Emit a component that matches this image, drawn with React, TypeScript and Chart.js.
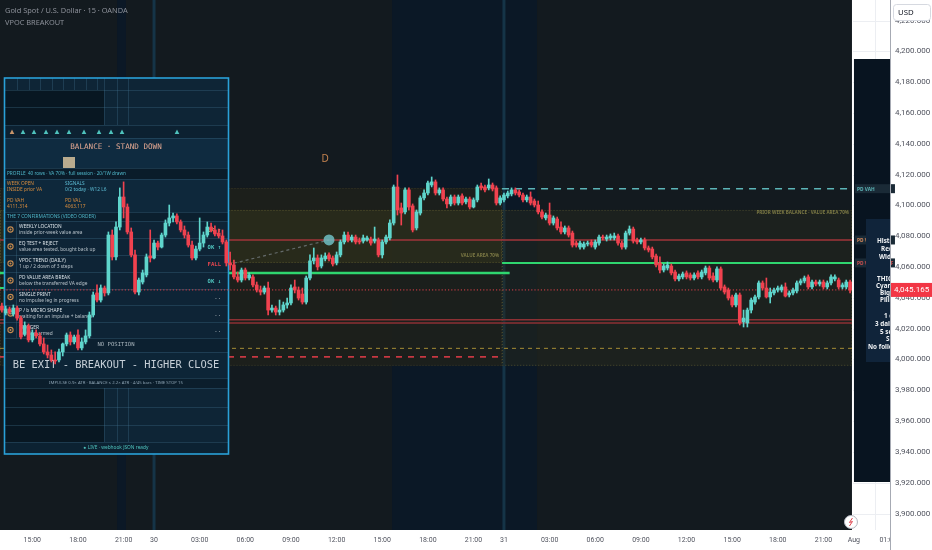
import React, { useEffect, useRef } from 'react';
import { Chart, registerables } from 'chart.js';

Chart.register(...registerables);

// ---------- categories (15-minute bars, OANDA session with daily break) ----------
const sessions: { day: string; fromH: number; toH: number }[] = [
  { day: 'Jul 29', fromH: 13, toH: 22 },
  { day: 'Jul 29', fromH: 23, toH: 24 },
  { day: 'Jul 30', fromH: 0, toH: 22 },
  { day: 'Jul 30', fromH: 23, toH: 24 },
  { day: 'Jul 31', fromH: 0, toH: 22 },
  { day: 'Jul 31', fromH: 23, toH: 24 },
  { day: 'Aug 1', fromH: 0, toH: 2.5 },
];
const categories: string[] = [];
sessions.forEach((s) => {
  for (let m = s.fromH * 60; m < s.toH * 60; m += 15) {
    const hh = String(Math.floor(m / 60)).padStart(2, '0');
    const mm = String(m % 60).padStart(2, '0');
    categories.push(`${s.day} ${hh}:${mm}`);
  }
});

const xTickLabels: [number, string][] = [
  [8, '15:00'], [20, '18:00'], [32, '21:00'], [40, '30'], [52, '03:00'], [64, '06:00'],
  [76, '09:00'], [88, '12:00'], [100, '15:00'], [112, '18:00'], [124, '21:00'], [132, '31'],
  [144, '03:00'], [156, '06:00'], [168, '09:00'], [180, '12:00'], [192, '15:00'], [204, '18:00'],
  [216, '21:00'], [224, 'Aug'], [233, '01:00'],
];
const priceTicks = [3900, 3920, 3940, 3960, 3980, 4000, 4020, 4040, 4060, 4080, 4100, 4120, 4140, 4160, 4180, 4200, 4220];

// ---------- OHLC ----------
const opens = [
  4034.7, 4030.2, 4032.8, 4029.5, 4033.4, 4026.9, 4016.6, 4021.8, 4012.7, 4017.2,
  4015.3, 4010.1, 4004.9, 4002.9, 3999.7, 3999.7, 4004.9, 4010.1, 4015.9, 4011.4,
  4015.9, 4007.5, 4011.4, 4015.3, 4028.9, 4043.2, 4038.6, 4046.4, 4043.2, 4080.8,
  4066.6, 4086.0, 4105.5, 4099.0, 4082.8, 4067.9, 4043.8, 4050.3, 4054.9, 4067.2,
  4065.9, 4075.6, 4073.0, 4080.8, 4088.6, 4091.9, 4093.2, 4089.3, 4084.1, 4080.8,
  4074.3, 4065.9, 4071.7, 4075.6, 4080.8, 4086.0, 4084.1, 4082.1, 4080.2, 4076.3,
  4062.7, 4061.4, 4053.6, 4051.6, 4058.1, 4052.9, 4053.6, 4048.4, 4045.1, 4043.8,
  4046.4, 4032.1, 4033.4, 4030.8, 4032.1, 4035.4, 4036.7, 4047.1, 4045.1, 4042.5,
  4037.3, 4052.9, 4064.0, 4065.9, 4060.7, 4065.3, 4067.9, 4065.9, 4062.7, 4067.9,
  4076.3, 4080.8, 4077.6, 4079.5, 4076.9, 4076.9, 4077.6, 4078.2, 4076.9, 4077.6,
  4067.9, 4076.3, 4078.9, 4088.6, 4112.0, 4098.4, 4095.8, 4110.1, 4099.7, 4085.4,
  4095.1, 4104.9, 4108.1, 4113.3, 4115.3, 4108.1, 4110.1, 4104.2, 4101.0, 4105.5,
  4101.6, 4106.2, 4102.3, 4104.2, 4099.0, 4103.6, 4112.7, 4112.0, 4111.4, 4113.3,
  4111.4, 4101.6, 4103.6, 4106.2, 4107.5, 4110.1, 4108.8, 4106.8, 4103.6, 4105.5,
  4102.9, 4100.3, 4095.8, 4091.9, 4093.8, 4088.6, 4091.2, 4086.0, 4082.8, 4085.4,
  4082.1, 4075.6, 4073.0, 4073.0, 4075.0, 4076.3, 4073.0, 4075.6, 4079.5, 4078.2,
  4078.9, 4078.9, 4080.2, 4075.6, 4073.0, 4082.1, 4084.7, 4077.6, 4076.3, 4077.6,
  4072.4, 4071.7, 4067.2, 4062.7, 4058.1, 4059.4, 4060.7, 4056.8, 4052.3, 4053.6,
  4056.2, 4054.9, 4052.9, 4056.2, 4053.6, 4056.2, 4059.4, 4054.2, 4051.6, 4058.8,
  4047.1, 4045.1, 4040.6, 4035.4, 4041.9, 4024.4, 4023.7, 4032.1, 4037.3, 4040.6,
  4049.7, 4046.4, 4040.6, 4043.2, 4045.1, 4045.1, 4047.1, 4041.9, 4043.2, 4044.5,
  4049.7, 4051.0, 4053.6, 4047.1, 4050.3, 4049.0, 4050.3, 4047.1, 4049.7, 4052.3,
  4051.6, 4047.1, 4047.1, 4050.3,
];
const highs = [
  4036.7, 4034.7, 4034.1, 4035.4, 4034.7, 4028.2, 4024.4, 4023.1, 4019.2, 4019.2,
  4017.2, 4014.0, 4009.4, 4006.2, 4004.9, 4006.8, 4010.7, 4017.2, 4017.9, 4015.9,
  4019.2, 4014.0, 4019.2, 4030.8, 4043.8, 4048.4, 4048.4, 4047.7, 4082.8, 4084.1,
  4089.3, 4111.4, 4115.3, 4101.0, 4085.4, 4071.1, 4052.9, 4058.1, 4068.5, 4084.1,
  4077.6, 4076.9, 4082.1, 4090.6, 4100.3, 4095.1, 4094.5, 4090.6, 4086.7, 4082.8,
  4076.9, 4073.7, 4091.9, 4082.8, 4089.3, 4088.6, 4086.7, 4084.7, 4084.1, 4077.6,
  4069.8, 4064.6, 4056.8, 4059.4, 4059.4, 4056.2, 4054.9, 4050.3, 4047.7, 4047.7,
  4050.3, 4035.4, 4034.7, 4038.6, 4037.3, 4039.9, 4048.4, 4051.6, 4047.1, 4046.4,
  4054.2, 4067.9, 4072.4, 4067.9, 4067.9, 4069.2, 4069.2, 4067.2, 4069.8, 4077.6,
  4082.8, 4082.8, 4080.8, 4080.8, 4078.9, 4080.8, 4080.2, 4079.5, 4086.0, 4078.9,
  4077.6, 4080.8, 4090.6, 4113.3, 4119.8, 4101.6, 4111.4, 4111.4, 4101.0, 4097.1,
  4106.2, 4110.1, 4115.9, 4118.5, 4116.6, 4111.4, 4111.4, 4105.5, 4106.8, 4106.8,
  4106.8, 4107.5, 4105.5, 4105.5, 4104.9, 4113.3, 4114.6, 4113.3, 4117.2, 4114.6,
  4112.7, 4106.2, 4108.1, 4109.4, 4111.4, 4111.4, 4110.1, 4108.1, 4106.8, 4108.8,
  4104.2, 4102.9, 4097.1, 4095.1, 4101.6, 4093.2, 4092.5, 4089.3, 4086.7, 4086.7,
  4083.4, 4076.9, 4076.9, 4076.3, 4076.9, 4077.6, 4077.6, 4080.8, 4080.8, 4080.8,
  4081.5, 4082.1, 4081.5, 4076.9, 4083.4, 4086.7, 4086.0, 4078.9, 4078.9, 4078.9,
  4073.7, 4073.0, 4068.5, 4066.6, 4062.0, 4063.3, 4062.0, 4058.1, 4055.5, 4056.8,
  4057.5, 4056.2, 4056.2, 4057.5, 4058.1, 4060.7, 4060.7, 4056.2, 4060.1, 4060.1,
  4048.4, 4046.4, 4041.9, 4043.2, 4043.2, 4032.1, 4033.4, 4039.9, 4041.9, 4051.0,
  4051.0, 4052.9, 4046.4, 4046.4, 4047.7, 4048.4, 4049.7, 4044.5, 4046.4, 4051.0,
  4052.3, 4054.2, 4054.9, 4051.6, 4051.6, 4051.6, 4051.6, 4051.0, 4054.9, 4054.9,
  4052.9, 4049.7, 4051.6, 4051.6,
];
const lows = [
  4030.8, 4028.9, 4029.5, 4028.2, 4025.6, 4013.3, 4015.3, 4011.4, 4011.4, 4014.0,
  4008.8, 4003.6, 4001.0, 3998.4, 3997.1, 3998.4, 4002.3, 4008.8, 4009.4, 4010.1,
  4006.2, 4006.2, 4010.1, 4014.0, 4027.6, 4037.3, 4037.3, 4041.2, 4041.9, 4064.6,
  4064.6, 4084.1, 4091.9, 4081.5, 4066.6, 4042.5, 4041.9, 4049.0, 4053.6, 4063.3,
  4065.3, 4071.1, 4072.4, 4079.5, 4086.7, 4089.3, 4088.0, 4082.8, 4078.9, 4073.0,
  4064.6, 4064.6, 4070.5, 4073.0, 4079.5, 4082.8, 4080.2, 4078.9, 4075.0, 4060.7,
  4058.1, 4052.3, 4050.3, 4050.3, 4051.6, 4051.6, 4047.1, 4043.8, 4041.9, 4042.5,
  4028.9, 4030.8, 4028.9, 4028.9, 4030.8, 4033.4, 4035.4, 4043.2, 4038.6, 4036.0,
  4036.0, 4051.6, 4062.0, 4058.1, 4059.4, 4064.0, 4064.0, 4060.7, 4061.4, 4066.6,
  4075.0, 4076.3, 4076.3, 4075.0, 4075.0, 4075.6, 4076.9, 4074.3, 4075.6, 4066.6,
  4065.9, 4075.0, 4077.6, 4087.3, 4093.8, 4087.3, 4094.5, 4097.1, 4082.8, 4084.1,
  4093.8, 4103.6, 4106.8, 4112.0, 4106.8, 4106.8, 4102.9, 4098.4, 4099.7, 4100.3,
  4100.3, 4100.3, 4101.0, 4097.7, 4098.4, 4102.3, 4110.1, 4108.8, 4110.1, 4109.4,
  4100.3, 4100.3, 4102.3, 4104.9, 4106.2, 4106.8, 4105.5, 4102.3, 4102.3, 4100.3,
  4099.0, 4094.5, 4091.2, 4090.6, 4087.3, 4087.3, 4084.1, 4081.5, 4081.5, 4079.5,
  4073.0, 4073.0, 4071.7, 4071.7, 4073.7, 4073.0, 4071.7, 4074.3, 4077.6, 4076.9,
  4077.6, 4077.6, 4074.3, 4071.7, 4071.7, 4080.8, 4075.6, 4075.0, 4075.0, 4071.1,
  4069.8, 4065.3, 4060.1, 4056.2, 4056.8, 4058.1, 4054.9, 4051.0, 4051.0, 4052.3,
  4052.3, 4051.6, 4051.6, 4052.3, 4052.3, 4054.9, 4051.6, 4050.3, 4050.3, 4045.1,
  4042.5, 4038.6, 4034.1, 4034.1, 4022.4, 4021.1, 4021.1, 4030.2, 4036.0, 4039.3,
  4045.1, 4039.9, 4036.7, 4041.9, 4043.8, 4043.8, 4040.6, 4040.6, 4041.9, 4043.2,
  4048.4, 4049.7, 4045.8, 4045.8, 4047.7, 4047.7, 4045.8, 4045.8, 4048.4, 4051.0,
  4045.8, 4045.8, 4045.8, 4043.2,
];
const closes = [
  4032.1, 4032.8, 4030.8, 4033.4, 4026.9, 4014.6, 4021.8, 4012.7, 4017.2, 4015.3,
  4010.1, 4004.9, 4002.9, 3999.7, 3999.0, 4004.9, 4010.1, 4015.9, 4011.4, 4014.6,
  4007.5, 4011.4, 4015.3, 4028.9, 4041.9, 4038.6, 4046.4, 4043.2, 4080.8, 4066.6,
  4086.0, 4105.5, 4099.0, 4082.8, 4067.9, 4043.8, 4051.6, 4056.2, 4066.6, 4065.9,
  4075.6, 4073.0, 4080.8, 4088.6, 4091.9, 4093.2, 4089.3, 4084.1, 4080.8, 4074.3,
  4065.9, 4071.7, 4075.6, 4080.8, 4086.0, 4084.1, 4081.5, 4080.2, 4076.3, 4062.7,
  4061.4, 4053.6, 4051.6, 4058.1, 4052.9, 4054.9, 4048.4, 4045.1, 4043.8, 4046.4,
  4032.1, 4033.4, 4030.8, 4032.1, 4035.4, 4036.7, 4046.4, 4045.1, 4039.9, 4037.3,
  4052.9, 4064.0, 4065.9, 4060.1, 4065.9, 4067.2, 4065.3, 4062.0, 4067.9, 4076.3,
  4080.8, 4077.6, 4079.5, 4076.3, 4076.3, 4078.9, 4078.9, 4075.6, 4078.2, 4067.9,
  4076.3, 4079.5, 4088.6, 4112.0, 4097.1, 4095.1, 4110.1, 4099.0, 4084.1, 4095.8,
  4104.9, 4108.1, 4114.6, 4115.3, 4108.1, 4110.1, 4104.2, 4101.0, 4105.5, 4101.6,
  4105.5, 4101.6, 4104.2, 4099.0, 4103.6, 4112.0, 4111.4, 4110.1, 4113.3, 4110.7,
  4101.6, 4104.9, 4106.8, 4108.1, 4110.1, 4108.1, 4106.8, 4103.6, 4105.5, 4101.6,
  4100.3, 4095.8, 4092.5, 4093.8, 4088.6, 4091.9, 4085.4, 4082.8, 4085.4, 4080.8,
  4074.3, 4074.3, 4075.6, 4075.0, 4075.6, 4074.3, 4076.3, 4079.5, 4078.9, 4079.5,
  4080.2, 4080.2, 4075.6, 4073.0, 4082.1, 4084.7, 4076.9, 4076.3, 4077.6, 4072.4,
  4071.1, 4066.6, 4061.4, 4058.1, 4060.7, 4061.4, 4056.2, 4052.3, 4054.2, 4055.5,
  4053.6, 4052.9, 4054.9, 4053.6, 4056.8, 4059.4, 4052.9, 4051.6, 4058.8, 4046.4,
  4043.8, 4039.9, 4035.4, 4041.9, 4023.7, 4026.9, 4032.1, 4038.6, 4040.6, 4049.7,
  4046.4, 4040.6, 4043.8, 4045.1, 4046.4, 4047.1, 4041.2, 4043.2, 4045.1, 4049.7,
  4051.0, 4052.9, 4047.1, 4050.3, 4049.0, 4050.3, 4047.1, 4049.7, 4053.6, 4053.6,
  4047.1, 4048.4, 4050.3, 4045.165,
];

// ---------- indicator levels / zones (price + bar index) ----------
const levelLines = [
  { price: 4077.6, from: 0, to: 223, color: '#a0343a', width: 1.5, dash: [] as number[] },
  { price: 4025.8, from: 0, to: 223, color: '#8d3034', width: 1.4, dash: [] as number[] },
  { price: 4023.7, from: 0, to: 223, color: '#8d3034', width: 1.4, dash: [] as number[] },
  { price: 4007.2, from: 0, to: 223, color: '#8e7a30', width: 1.2, dash: [4, 4] },
  { price: 4001.7, from: 0, to: 131, color: '#d63a45', width: 1.6, dash: [6, 6] },
  { price: 4110.9, from: 132, to: 223, color: '#5cb5b8', width: 1.6, dash: [7, 6] },
  { price: 4056.2, from: 0, to: 133, color: '#2fd66f', width: 2.4, dash: [] as number[] },
  { price: 4062.7, from: 132, to: 223, color: '#2fd66f', width: 2, dash: [] as number[] },
  { price: 4046.4, from: 0, to: 2, color: '#2fd66f', width: 2, dash: [] as number[] },
];
const zones = [
  { from: 0, to: 131, top: 4111.4, bottom: 3995.9, fill: 'rgba(30,33,27,0.85)', stroke: '#3a3b29' },
  { from: 0, to: 131, top: 4097.1, bottom: 4062.7, fill: 'rgba(52,54,28,0.5)', stroke: '#57552f' },
  { from: 132, to: 223, top: 4097.1, bottom: 3995.9, fill: 'rgba(40,42,28,0.45)', stroke: '#4a4a2e' },
];
const zoneLabels = [
  { text: 'VALUE AREA 70%', index: 131, price: 4067.3 },
  { text: 'PRIOR WEEK BALANCE · VALUE AREA 70%', index: 223, price: 4095.6 },
];
const sessionBands = [
  { from: 30.3, to: 32.6 },
  { from: 102.6, to: 140.7 },
];
const daySeparators = [40, 132];
const markerD = { index: 85, price: 4130.2, text: 'D' };
const touchFrom = { index: 61, price: 4062.5 };
const touchPoint = { index: 86, price: 4077.6 };
const axisTags = [
  { text: 'PD VAH', price: 4110.9, color: '#5cb5b8' },
  { text: 'PD VPOC', price: 4077.6, color: '#d98a5c' },
  { text: 'PD VAL TRANSF', price: 4062.7, color: '#d05050' },
];
const sideNotes: [string, number, number][] = [
  ['History', 877, 241], ['Red = sell', 881, 249], ['Width = vol', 879, 257],
  ['THICK', 877, 279], ['Cyan = buy', 876, 286], ['Big = VPOC', 880, 293], ['Pill = price', 880, 300],
  ['1 candle', 884, 316], ['3 daily steps', 875, 324], ['5 sessions', 880, 332], ['Slope', 886, 339],
  ['No follow-through', 868, 347],
];

const BULL = '#5fd5cc';
const BEAR = '#f0424f';

const fmtPrice = (v: number) => {
  const [a, b] = v.toFixed(3).split('.');
  return a.replace(/\B(?=(\d{3})+(?!\d))/g, ',') + '.' + b;
};

function txt(ctx: any, s: string, x: number, y: number, color: string, font: string, align: any = 'left') {
  ctx.fillStyle = color;
  ctx.font = font;
  ctx.textAlign = align;
  ctx.textBaseline = 'middle';
  ctx.fillText(s, x, y);
}
function hl(ctx: any, x0: number, x1: number, y: number, c: string, w = 1) {
  ctx.strokeStyle = c; ctx.lineWidth = w; ctx.beginPath(); ctx.moveTo(x0, y); ctx.lineTo(x1, y); ctx.stroke();
}
function vl(ctx: any, x: number, y0: number, y1: number, c: string, w = 1) {
  ctx.strokeStyle = c; ctx.lineWidth = w; ctx.beginPath(); ctx.moveTo(x, y0); ctx.lineTo(x, y1); ctx.stroke();
}

const SANS = '"Noto Sans", Roboto, sans-serif';
const MONO = '"DejaVu Sans Mono", monospace';

function drawPanel(ctx: any) {
  const L = 5, R = 228, W = R - L;
  const fills: [number, number, number, number, string][] = [
    [L, 78, W, 376, '#0e2536'],
    [L, 90, 99, 35, '#081722'],
    [L, 125, W, 13, '#0c2131'],
    [L, 138, W, 30, '#0f2b40'],
    [L, 168, W, 11, '#0a1c2a'],
    [L, 179, W, 33, '#0e283b'],
    [L, 212, W, 9, '#0b1f2e'],
    [L, 221, W, 117, '#0e2436'],
    [L, 338, W, 14, '#0c2030'],
    [L, 352, W, 26, '#0d2537'],
    [L, 378, W, 10, '#0b1e2c'],
    [L, 388, 99, 54, '#081722'],
    [L, 442, W, 11, '#0c2232'],
  ];
  fills.forEach(([x, y, w, h, c]) => { ctx.fillStyle = c; ctx.fillRect(x, y, w, h); });
  const g = 'rgba(70,120,150,0.3)';
  [90, 107, 125, 138, 168, 179, 212, 221, 238, 255, 272, 289, 305, 322, 338, 352, 378, 388, 407, 425, 442].forEach((y) => hl(ctx, L, R, y + 0.5, g));
  [17, 29, 40, 52, 63, 74, 86, 97].forEach((x) => vl(ctx, x + 0.5, 78, 90, g));
  [104, 117, 128].forEach((x) => { vl(ctx, x + 0.5, 78, 125, g); vl(ctx, x + 0.5, 388, 442, g); });
  vl(ctx, 16.5, 221, 338, g);

  // arrows row
  [12, 23, 34, 46, 57, 69, 84, 99, 111, 122, 177].forEach((x, i) => {
    ctx.fillStyle = i === 0 ? '#c8956a' : '#4fc3bd';
    ctx.beginPath(); ctx.moveTo(x, 129.5); ctx.lineTo(x + 2.3, 134); ctx.lineTo(x - 2.3, 134); ctx.closePath(); ctx.fill();
  });

  txt(ctx, 'BALANCE · STAND DOWN', 116, 147.5, '#e3a892', `7.6px ${MONO}`, 'center');
  ctx.fillStyle = '#b9ab8e'; ctx.fillRect(63, 157, 12, 11);
  txt(ctx, 'PROFILE  40 rows · VA 70% · full session · 20/1W drawn', 7, 173.5, '#4fb6c9', `4.7px ${SANS}`);

  const orange = '#d98d3e', teal = '#5cbad2';
  const info: [string, number, number, string][] = [
    ['WEEK OPEN', 7, 184, orange], ['INSIDE prior VA', 7, 190, orange],
    ['SIGNALS', 65, 184, teal], ['0/2 today · W12 L6', 65, 190, teal],
    ['PD VAH', 7, 201, orange], ['4111.314', 7, 206.5, orange],
    ['PD VAL', 65, 201, orange], ['4063.117', 65, 206.5, orange],
  ];
  info.forEach(([s, x, y, c]) => txt(ctx, s, x, y, c, `4.8px ${SANS}`));
  txt(ctx, 'THE 7 CONFIRMATIONS (VIDEO ORDER)', 7, 216.8, '#4fb6c9', `4.8px ${SANS}`);

  const conf: [string, string, string, string][] = [
    ['WEEKLY LOCATION', 'inside prior-week value area', 'OK ↑', '#c8b46a'],
    ['EQ TEST + REJECT', 'value area tested, bought back up', 'OK ↑', '#4fc3bd'],
    ['VPOC TREND (DAILY)', '1 up / 2 down of 3 steps', 'FALL', '#e0454f'],
    ['PD VALUE AREA BREAK', 'below the transferred VA edge', 'OK ↓', '#4fc3bd'],
    ['SINGLE PRINT', 'no impulse leg in progress', '..', '#7d8a94'],
    ['P / b MICRO SHAPE', 'waiting for an impulse + balance', '..', '#7d8a94'],
    ['TRIGGER', 'nothing armed', '..', '#7d8a94'],
  ];
  const rowTops = [221, 238, 255, 272, 289, 305, 322, 338];
  conf.forEach(([t, s, st, c], i) => {
    const y0 = rowTops[i], y1 = rowTops[i + 1], cy = (y0 + y1) / 2;
    ctx.strokeStyle = '#c58a4e'; ctx.lineWidth = 1.1;
    ctx.beginPath(); ctx.arc(10.5, cy, 2.6, 0, Math.PI * 2); ctx.stroke();
    ctx.fillStyle = '#c58a4e'; ctx.beginPath(); ctx.arc(10.5, cy, 1, 0, Math.PI * 2); ctx.fill();
    txt(ctx, t, 19, y0 + 5.5, '#dbe3e8', `4.8px ${SANS}`);
    txt(ctx, s, 19, y0 + 11.5, '#b5c0c8', `4.8px ${SANS}`);
    txt(ctx, st, 221, cy + 1, c, `bold 5.6px ${MONO}`, 'right');
  });

  txt(ctx, 'NO POSITION', 116, 345, '#a9b5bd', `5.6px ${MONO}`, 'center');
  txt(ctx, 'BE EXIT - BREAKOUT - HIGHER CLOSE', 116, 365.5, '#c7d0d8', `10.4px ${MONO}`, 'center');
  txt(ctx, 'IMPULSE 0.9× ATR · BALANCE ≤ 2.2× ATR · 4/45 bars · TIME STOP 15', 116, 382.8, '#8aa0b0', `4.3px ${SANS}`, 'center');
  txt(ctx, '● LIVE · webhook JSON ready', 116, 447.8, '#4fc3bd', `4.8px ${SANS}`, 'center');

  ctx.strokeStyle = '#2aa0d8'; ctx.lineWidth = 1.6;
  ctx.strokeRect(4.5, 78, 224, 376);
}

const overlayPlugin = {
  id: 'vpocOverlay',
  beforeDraw(chart: any) {
    const { ctx, chartArea: ca } = chart;
    const X = chart.scales.x, Y = chart.scales.y;
    const xi = (i: number) => X.getPixelForValue(i);
    const yp = (p: number) => Y.getPixelForValue(p);
    const half = (xi(1) - xi(0)) / 2;
    const lastRight = xi(opens.length - 1) + half;
    ctx.save();
    ctx.fillStyle = '#ffffff';
    ctx.fillRect(0, 0, chart.width, chart.height);
    // strip grid (light theme grid visible where indicator bg absent)
    priceTicks.forEach((v) => hl(ctx, lastRight + 1, ca.right, Math.round(yp(v)) + 0.5, '#eceef2'));
    vl(ctx, 875.5, ca.top, ca.bottom, '#eceef2');
    // dark indicator background
    ctx.fillStyle = '#131a1f';
    ctx.fillRect(ca.left, ca.top, lastRight - ca.left, ca.bottom - ca.top);
    // session bands & day separators
    sessionBands.forEach((b) => {
      ctx.fillStyle = '#0b1826';
      ctx.fillRect(xi(b.from), ca.top, xi(b.to) - xi(b.from), ca.bottom - ca.top);
    });
    daySeparators.forEach((i) => vl(ctx, xi(i), ca.top, ca.bottom, '#153447', 3));
    // zones
    zones.forEach((z) => {
      const x0 = xi(z.from) - half, x1 = xi(z.to) + half;
      const y0 = yp(z.top), y1 = yp(z.bottom);
      ctx.fillStyle = z.fill;
      ctx.fillRect(x0, y0, x1 - x0, y1 - y0);
      ctx.setLineDash([1, 2]);
      ctx.strokeStyle = z.stroke; ctx.lineWidth = 1;
      ctx.strokeRect(x0 + 0.5, y0 + 0.5, x1 - x0 - 1, y1 - y0 - 1);
      ctx.setLineDash([]);
    });
    zoneLabels.forEach((l) => txt(ctx, l.text, xi(l.index) + half - 3, yp(l.price), '#7d7a45', `bold 4.6px ${SANS}`, 'right'));
    // level lines
    levelLines.forEach((l) => {
      ctx.setLineDash(l.dash);
      hl(ctx, xi(l.from) - half, xi(l.to) + half, yp(l.price), l.color, l.width);
    });
    ctx.setLineDash([]);
    // touch marker
    ctx.setLineDash([3, 3]);
    ctx.strokeStyle = 'rgba(140,150,160,0.6)'; ctx.lineWidth = 1.2;
    ctx.beginPath(); ctx.moveTo(xi(touchFrom.index), yp(touchFrom.price)); ctx.lineTo(xi(touchPoint.index), yp(touchPoint.price)); ctx.stroke();
    ctx.setLineDash([]);
    ctx.fillStyle = 'rgba(110,190,195,0.85)';
    ctx.beginPath(); ctx.arc(xi(touchPoint.index), yp(touchPoint.price), 5.5, 0, Math.PI * 2); ctx.fill();
    txt(ctx, markerD.text, xi(markerD.index), yp(markerD.price), '#c4834f', `10px ${SANS}`, 'center');

    // right strip
    const sx = lastRight + 2;
    ctx.fillStyle = '#081420';
    ctx.fillRect(sx, 59, ca.right - sx, 423);
    axisTags.forEach((t) => {
      const y = yp(t.price);
      ctx.fillStyle = '#1a2a36';
      ctx.fillRect(sx + 1, y - 4.5, 40, 9);
      txt(ctx, t.text, sx + 3, y + 0.5, t.color, `bold 4.8px ${SANS}`);
    });
    ctx.fillStyle = '#10243a';
    ctx.fillRect(866, 219, ca.right - 866, 143);
    ctx.save();
    ctx.beginPath(); ctx.rect(866, 219, ca.right - 866, 143); ctx.clip();
    sideNotes.forEach(([s, x, y]) => txt(ctx, s, x, y, '#f2f4f6', `bold 6.3px ${SANS}`));
    ctx.restore();
    ctx.restore();
  },
  beforeDatasetsDraw(chart: any) {
    const { ctx } = chart;
    const X = chart.scales.x, Y = chart.scales.y;
    const half = (X.getPixelForValue(1) - X.getPixelForValue(0)) / 2;
    ctx.save();
    drawPanel(ctx);
    const y = Y.getPixelForValue(closes[closes.length - 1]);
    ctx.setLineDash([1.2, 2]);
    hl(ctx, 0, X.getPixelForValue(closes.length - 1) + half, y, '#e0404a', 1);
    ctx.setLineDash([]);
    ctx.restore();
  },
  afterDraw(chart: any) {
    const { ctx, chartArea: ca } = chart;
    const X = chart.scales.x, Y = chart.scales.y;
    const half = (X.getPixelForValue(1) - X.getPixelForValue(0)) / 2;
    ctx.save();
    txt(ctx, 'Gold Spot / U.S. Dollar · 15 · OANDA', 5, 11, '#8c9099', `7.4px ${SANS}`);
    txt(ctx, 'VPOC BREAKOUT', 5, 22.5, '#8c9099', `7.4px ${SANS}`);
    // cover x-axis under price axis
    ctx.fillStyle = '#ffffff';
    ctx.fillRect(ca.right + 0.5, ca.bottom, chart.width - ca.right, chart.height - ca.bottom);
    vl(ctx, ca.right + 0.5, 0, chart.height, '#a6aab3', 1);
    // USD box
    ctx.fillStyle = '#ffffff';
    ctx.strokeStyle = '#d6d9e0'; ctx.lineWidth = 1;
    ctx.beginPath(); ctx.roundRect(893.5, 4.5, 37, 16, 3); ctx.fill(); ctx.stroke();
    txt(ctx, 'USD', 898, 12.8, '#131722', `7.8px ${SANS}`);
    // last price tag
    const last = closes[closes.length - 1];
    const y = Y.getPixelForValue(last);
    ctx.fillStyle = '#f23645';
    ctx.fillRect(ca.right + 1, y - 7, chart.width - ca.right - 1, 14);
    txt(ctx, fmtPrice(last), ca.right + 4, y + 0.5, '#ffffff', `8px Roboto`);
    // lightning button
    const cx = X.getPixelForValue(closes.length - 1) + half - 1, cy = 522;
    ctx.fillStyle = '#ffffff'; ctx.strokeStyle = '#b2b5be'; ctx.lineWidth = 1;
    ctx.beginPath(); ctx.arc(cx, cy, 6.5, 0, Math.PI * 2); ctx.fill(); ctx.stroke();
    ctx.strokeStyle = '#e0454f'; ctx.lineWidth = 1;
    ctx.beginPath(); ctx.moveTo(cx + 1.5, cy - 4); ctx.lineTo(cx - 1.5, cy + 0.5); ctx.lineTo(cx + 1.5, cy - 0.5); ctx.lineTo(cx - 1.5, cy + 4); ctx.stroke();
    ctx.restore();
  },
};

export default function App() {
  const ref = useRef<HTMLCanvasElement>(null);
  useEffect(() => {
    document.body.style.margin = '0';
    const n = categories.length;
    const pad = (arr: any[]) => arr.concat(new Array(n - arr.length).fill(null));
    const bodies = pad(opens.map((o, i) => [o, closes[i]]));
    const wicks = pad(lows.map((l, i) => [l, highs[i]]));
    const colors = pad(opens.map((o, i) => (closes[i] >= o ? BULL : BEAR)));
    const tickMap: Record<number, string> = {};
    xTickLabels.forEach(([i, s]) => { tickMap[i] = s; });

    const chart = new Chart(ref.current as HTMLCanvasElement, {
      type: 'bar',
      data: {
        labels: categories,
        datasets: [
          { label: 'body', data: bodies as any, backgroundColor: colors, barThickness: 3, grouped: false, order: 1, minBarLength: 1 },
          { label: 'wick', data: wicks as any, backgroundColor: colors, barThickness: 1, grouped: false, order: 2 },
        ],
      },
      options: {
        responsive: false,
        animation: false,
        layout: { padding: 0 },
        plugins: { legend: { display: false }, tooltip: { enabled: false } },
        scales: {
          x: {
            type: 'category',
            offset: true,
            grid: { display: false, drawTicks: false },
            border: { display: false },
            ticks: {
              autoSkip: false, maxRotation: 0, minRotation: 0, padding: 6,
              color: '#50535e', font: { family: 'Roboto', size: 7 },
              callback: (_v: any, i: number) => tickMap[i] ?? '',
            },
            afterFit: (s: any) => { s.height = 20; s.paddingLeft = 0; s.paddingRight = 0; },
          },
          y: {
            position: 'right',
            min: 3889.3,
            max: 4233.4,
            grid: { display: false, drawTicks: false },
            border: { display: false },
            afterBuildTicks: (s: any) => { s.ticks = priceTicks.map((v) => ({ value: v })); },
            ticks: {
              padding: 5, color: '#50535e', font: { family: 'Roboto', size: 8 },
              callback: (v: any) => fmtPrice(Number(v)),
            },
            afterFit: (s: any) => { s.width = 42; s.paddingTop = 0; s.paddingBottom = 0; },
          },
        },
      } as any,
      plugins: [overlayPlugin as any],
    });
    return () => chart.destroy();
  }, []);
  return (
    <div style={{ position: 'absolute', left: 0, top: 0, width: 932, height: 550 }}>
      <canvas ref={ref} width={932} height={550} style={{ display: 'block' }} />
    </div>
  );
}
